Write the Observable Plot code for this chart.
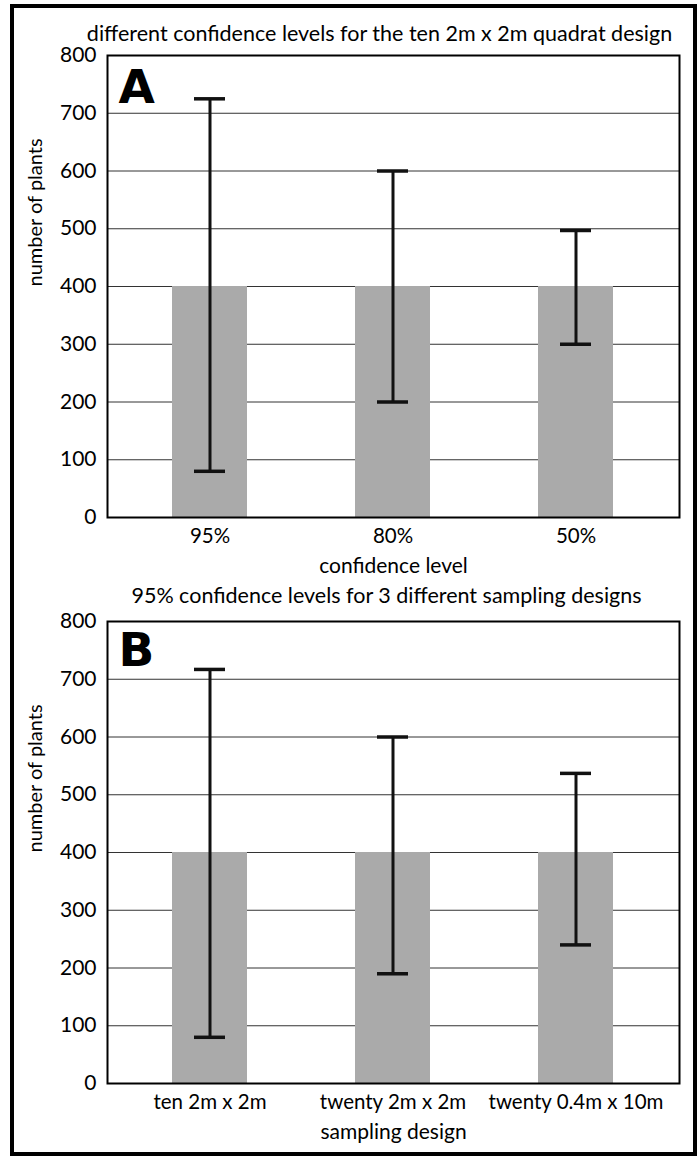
<!DOCTYPE html>
<html>
<head>
<meta charset="utf-8">
<script src="https://cdn.jsdelivr.net/npm/d3@7"></script>
<script src="https://cdn.jsdelivr.net/npm/@observablehq/plot@0.6"></script>
<style>
  html, body { margin: 0; padding: 0; background: white; }
  #page { position: relative; width: 699px; height: 1160px; overflow: hidden; background: white; font-family: Lato, "Open Sans", sans-serif; }
  #border { position: absolute; left: 10px; top: 4px; width: 679px; height: 1144px; border: 4px solid black; pointer-events: none; z-index: 5; }
  .panel { position: absolute; left: 0; }
</style>
</head>
<body>
<div id="page">
  <div id="border"></div>
  <div id="panelA" class="panel" style="top:0px"></div>
  <div id="panelB" class="panel" style="top:580px"></div>
</div>
<script>
// ---- Data ----
const categoriesA = ["95%", "80%", "50%"];
const meanA = [400, 400, 400];
const lowerA = [80, 200, 300];
const upperA = [725, 600, 497];

const categoriesB = ["ten 2m x 2m", "twenty 2m x 2m", "twenty 0.4m x 10m"];
const meanB = [400, 400, 400];
const lowerB = [80, 190, 240];
const upperB = [717, 600, 537];

const yTicks = [0, 100, 200, 300, 400, 500, 600, 700, 800];
const yLabel = "number of plants";
const titleA = "different confidence levels for the ten 2m x 2m quadrat design";
const titleB = "95% confidence levels for 3 different sampling designs";
const xLabelA = "confidence level";
const xLabelB = "sampling design";

function panel({categories, mean, lower, upper, title, xLabel, letter, marginTop, height, titleDx, titleDy, letterDy}) {
  const data = categories.map((c, i) => ({c, mean: mean[i], lo: lower[i], hi: upper[i]}));
  return Plot.plot({
    width: 699,
    height,
    marginTop,
    marginBottom: height - marginTop - 462,
    marginLeft: 107,
    marginRight: 20,
    style: {fontFamily: "Lato, sans-serif", background: "transparent", overflow: "visible", color: "black"},
    x: {domain: categories, paddingInner: 0.59, paddingOuter: 0.35},
    y: {domain: [0, 800]},
    marks: [
      Plot.gridY(yTicks, {stroke: "#333", strokeOpacity: 1, strokeWidth: 1}),
      Plot.barY(data, {x: "c", y: "mean", fill: "#aaaaaa"}),
      Plot.ruleX(data, {x: "c", y1: "lo", y2: "hi", stroke: "#111", strokeWidth: 3}),
      Plot.tickY(data, {x: "c", y: "lo", stroke: "#111", strokeWidth: 3.5, inset: 22}),
      Plot.tickY(data, {x: "c", y: "hi", stroke: "#111", strokeWidth: 3.5, inset: 22}),
      Plot.frame({stroke: "black", strokeWidth: 2}),
      Plot.axisY(yTicks, {tickSize: 0, tickPadding: 11, fontSize: 21, label: null}),
      Plot.axisX({tickSize: 0, tickPadding: 11, fontSize: 20.5, label: null}),
      Plot.text([yLabel], {frameAnchor: "left", rotate: -90, dx: -72, fontSize: 20}),
      Plot.text([xLabel], {frameAnchor: "bottom", lineAnchor: "bottom", dy: 55, fontSize: 21}),
      Plot.text([title], {frameAnchor: "top", lineAnchor: "bottom", dx: titleDx, dy: titleDy, fontSize: 21.5}),
      Plot.text([letter], {frameAnchor: "top-left", lineAnchor: "bottom", dx: 11, dy: letterDy, fontSize: 47, fontWeight: "bold", fontFamily: "DejaVu Sans"})
    ]
  });
}

document.getElementById("panelA").append(panel({
  categories: categoriesA, mean: meanA, lower: lowerA, upper: upperA,
  title: titleA, xLabel: xLabelA, letter: "A",
  marginTop: 55, height: 580, titleDx: -14, titleDy: -15, letterDy: 47
}));
document.getElementById("panelB").append(panel({
  categories: categoriesB, mean: meanB, lower: lowerB, upper: upperB,
  title: titleB, xLabel: xLabelB, letter: "B",
  marginTop: 41, height: 580, titleDx: -7, titleDy: -19, letterDy: 44
}));
</script>
</body>
</html>
